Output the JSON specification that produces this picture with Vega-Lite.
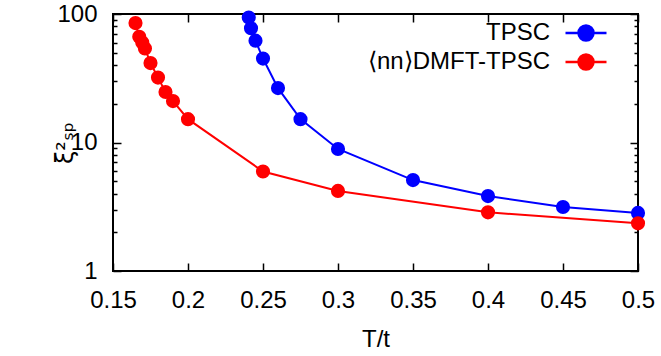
{
  "$schema": "https://vega.github.io/schema/vega-lite/v6.json",
  "width": 525,
  "height": 257,
  "autosize": {"type": "none"},
  "padding": {"left": 113, "top": 14, "right": 23, "bottom": 85},
  "background": "white",
  "config": {
    "view": {"stroke": "black", "strokeWidth": 2},
    "font": "Liberation Sans",
    "axis": {
      "grid": false,
      "domain": false,
      "tickColor": "black",
      "tickWidth": 1.5,
      "labelFlush": false
    }
  },
  "datasets": {
    "d": [
      {"T": 0.2405, "xi": 94, "series": "TPSC"},
      {"T": 0.242, "xi": 77.5, "series": "TPSC"},
      {"T": 0.245, "xi": 62, "series": "TPSC"},
      {"T": 0.25, "xi": 45, "series": "TPSC"},
      {"T": 0.26, "xi": 26.5, "series": "TPSC"},
      {"T": 0.275, "xi": 15.2, "series": "TPSC"},
      {"T": 0.3, "xi": 8.9, "series": "TPSC"},
      {"T": 0.35, "xi": 5.1, "series": "TPSC"},
      {"T": 0.4, "xi": 3.83, "series": "TPSC"},
      {"T": 0.45, "xi": 3.15, "series": "TPSC"},
      {"T": 0.5, "xi": 2.83, "series": "TPSC"},
      {"T": 0.165, "xi": 85, "series": "⟨nn⟩DMFT-TPSC"},
      {"T": 0.1675, "xi": 66.5, "series": "⟨nn⟩DMFT-TPSC"},
      {"T": 0.1695, "xi": 60, "series": "⟨nn⟩DMFT-TPSC"},
      {"T": 0.1713, "xi": 54, "series": "⟨nn⟩DMFT-TPSC"},
      {"T": 0.175, "xi": 41.5, "series": "⟨nn⟩DMFT-TPSC"},
      {"T": 0.18, "xi": 32, "series": "⟨nn⟩DMFT-TPSC"},
      {"T": 0.185, "xi": 24.7, "series": "⟨nn⟩DMFT-TPSC"},
      {"T": 0.19, "xi": 21, "series": "⟨nn⟩DMFT-TPSC"},
      {"T": 0.2, "xi": 15.2, "series": "⟨nn⟩DMFT-TPSC"},
      {"T": 0.25, "xi": 5.95, "series": "⟨nn⟩DMFT-TPSC"},
      {"T": 0.3, "xi": 4.2, "series": "⟨nn⟩DMFT-TPSC"},
      {"T": 0.4, "xi": 2.86, "series": "⟨nn⟩DMFT-TPSC"},
      {"T": 0.5, "xi": 2.35, "series": "⟨nn⟩DMFT-TPSC"}
    ]
  },
  "data": {"name": "d"},
  "layer": [
    {
      "mark": {"type": "line", "strokeWidth": 2},
      "encoding": {
        "x": {"field": "T", "type": "quantitative", "scale": {"domain": [0.15, 0.5], "nice": false, "zero": false},
          "axis": {"orient": "bottom", "values": [0.15, 0.2, 0.25, 0.3, 0.35, 0.4, 0.45, 0.5], "format": "~g", "tickSize": -8, "labelPadding": 25, "labelFlush": false,
            "labelFont": "Liberation Sans", "labelFontSize": 24, "labelColor": "black",
            "title": "T/t", "titlePadding": 15, "titleFont": "Liberation Sans", "titleFontSize": 24, "titleFontWeight": "normal", "titleColor": "black"}},
        "y": {"field": "xi", "type": "quantitative", "scale": {"type": "log", "domain": [1, 100], "nice": false},
          "axis": {"orient": "left", "values": [1, 10, 100], "format": "~g", "tickSize": -8, "labelPadding": 24, "labelFlush": false,
            "labelFont": "Liberation Sans", "labelFontSize": 24, "labelColor": "black",
            "title": "ξ²ₛₚ", "titlePadding": -21, "titleFont": "DejaVu Sans", "titleFontSize": 24, "titleFontWeight": "normal", "titleColor": "black"}},
        "color": {"field": "series", "type": "nominal", "scale": {"domain": ["TPSC", "⟨nn⟩DMFT-TPSC"], "range": ["#0000ff", "#ff0000"]},
          "legend": {
            "orient": "none", "legendX": 461, "legendY": 7, "padding": 0, "title": null,
            "symbolType": "M-2.05,0L2.05,0M0.75,0A0.75,0.75 0 1,1 -0.75,0A0.75,0.75 0 1,1 0.75,0Z",
            "symbolSize": 400, "symbolStrokeWidth": 2.5,
            "labelAlign": "right", "labelOffset": -48, "rowPadding": 3, "labelLimit": 400,
            "labelFontSize": 24, "labelFont": "Liberation Sans", "labelColor": "black",
            "encode": {"symbols": {"update": {"fill": {"scale": "color", "field": "value"}, "stroke": {"scale": "color", "field": "value"}, "opacity": {"value": 1}}}}
          }}
      }
    },
    {
      "mark": {"type": "point", "filled": true, "opacity": 1, "size": 200},
      "encoding": {
        "x": {"field": "T", "type": "quantitative", "axis": null},
        "y": {"field": "xi", "type": "quantitative", "axis": null},
        "color": {"field": "series", "type": "nominal", "legend": null}
      }
    },
    {
      "mark": {"type": "point", "opacity": 0},
      "encoding": {
        "x": {"field": "T", "type": "quantitative",
          "axis": {"orient": "top", "values": [0.15, 0.2, 0.25, 0.3, 0.35, 0.4, 0.45, 0.5], "tickSize": -8, "labels": false, "title": null}},
        "y": {"field": "xi", "type": "quantitative",
          "axis": {"orient": "right", "values": [1, 10, 100], "tickSize": -8, "labels": false, "title": null}}
      }
    },
    {
      "mark": {"type": "point", "opacity": 0},
      "encoding": {
        "x": {"field": "T", "type": "quantitative", "axis": null},
        "y": {"field": "xi", "type": "quantitative",
          "axis": {"orient": "left", "values": [2, 3, 4, 5, 6, 7, 8, 9, 20, 30, 40, 50, 60, 70, 80, 90], "tickSize": -4, "labels": false, "title": null}}
      }
    },
    {
      "mark": {"type": "point", "opacity": 0},
      "encoding": {
        "x": {"field": "T", "type": "quantitative", "axis": null},
        "y": {"field": "xi", "type": "quantitative",
          "axis": {"orient": "right", "values": [2, 3, 4, 5, 6, 7, 8, 9, 20, 30, 40, 50, 60, 70, 80, 90], "tickSize": -4, "labels": false, "title": null}}
      }
    }
  ],
  "resolve": {"axis": {"x": "independent", "y": "independent"}}
}
